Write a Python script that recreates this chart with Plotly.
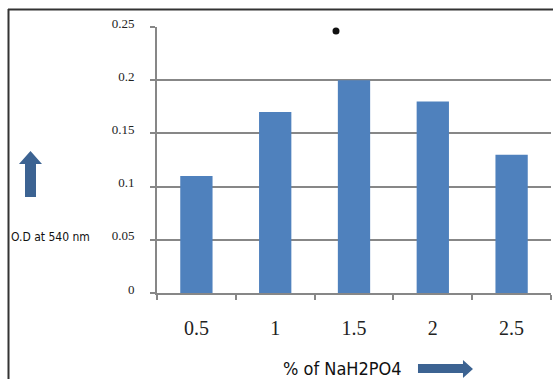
import plotly.graph_objects as go

categories = ["0.5", "1", "1.5", "2", "2.5"]
values = [0.11, 0.17, 0.20, 0.18, 0.13]
y_ticks = [0, 0.05, 0.1, 0.15, 0.2, 0.25]
y_tick_labels = ["0", "0.05", "0.1", "0.15", "0.2", "0.25"]

W, H = 553, 379
L, R, T, B = 157, 2, 27, 86
pw, ph = W - L - R, H - T - B

def px(x):
    return (x - L) / pw

def py(y):
    return (H - B - y) / ph

fig = go.Figure()
fig.add_trace(go.Bar(x=categories, y=values, marker=dict(color="#4F81BD", line=dict(width=0)),
                     showlegend=False))

serif = "Liberation Serif, Times New Roman, DejaVu Serif, serif"
axis_col = "#878787"
fig.update_layout(
    width=W, height=H, margin=dict(l=L, r=R, t=T, b=B),
    paper_bgcolor="white", plot_bgcolor="white",
    bargap=0.59,
    xaxis=dict(type="category", showgrid=False, showline=True, linecolor=axis_col, linewidth=2,
               ticks="outside", tickson="boundaries", ticklen=5, tickcolor=axis_col, tickwidth=2,
               tickfont=dict(family=serif, size=20, color="#222"),
               ticklabelstandoff=16),
    yaxis=dict(range=[0, 0.25], tickvals=y_ticks, ticktext=y_tick_labels,
               showgrid=True, gridcolor=axis_col, gridwidth=2, zeroline=False,
               showline=True, linecolor=axis_col, linewidth=2,
               ticks="outside", ticklen=5, tickcolor=axis_col, tickwidth=2,
               tickfont=dict(family=serif, size=13, color="#222"),
               ticklabelstandoff=13, ticklabelshift=-4),
)

arrow_col = "#3C6392"
# up arrow (y axis)
up = [(25, 197), (36, 197), (36, 164), (42, 164), (30.5, 151), (19, 164), (25, 164)]
# right arrow (x axis)
rt = [(418, 364), (463, 364), (463, 360), (473, 369), (463, 378), (463, 373), (418, 373)]

def path(pts):
    return "M " + " L ".join(f"{px(a):.4f},{py(b):.4f}" for a, b in pts) + " Z"

shapes = [
    dict(type="path", xref="paper", yref="paper", path=path(up), fillcolor=arrow_col, line=dict(width=0)),
    dict(type="path", xref="paper", yref="paper", path=path(rt), fillcolor=arrow_col, line=dict(width=0)),
    dict(type="circle", xref="paper", yref="paper", x0=px(332.5), x1=px(339.5), y0=py(34.5), y1=py(27.5),
         fillcolor="#111", line=dict(width=0)),
    dict(type="line", xref="paper", yref="paper", x0=px(8), x1=px(553), y0=py(9.5), y1=py(9.5),
         line=dict(color="#333", width=2)),
    dict(type="line", xref="paper", yref="paper", x0=px(8.5), x1=px(8.5), y0=py(9), y1=py(379),
         line=dict(color="#333", width=2)),
]
fig.update_layout(shapes=shapes)

fig.add_annotation(text="O.D at 540 nm", xref="paper", yref="paper", x=px(9), y=py(237),
                   xanchor="left", yanchor="middle", showarrow=False,
                   font=dict(family="DejaVu Sans Condensed, Liberation Sans Narrow, sans-serif",
                             size=12, color="#111"))
fig.add_annotation(text="% of NaH2PO4", xref="paper", yref="paper", x=px(342), y=py(368),
                   xanchor="center", yanchor="middle", showarrow=False,
                   font=dict(family="DejaVu Sans Condensed, sans-serif", size=18, color="#111"))

fig.write_html("out.html")
